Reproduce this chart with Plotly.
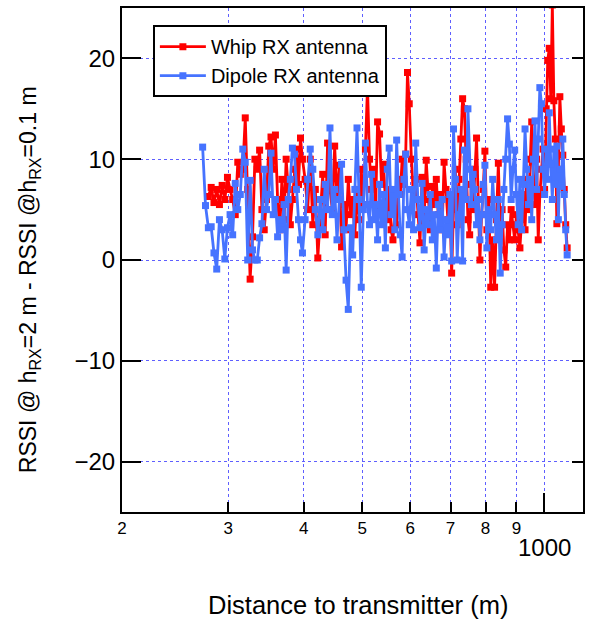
import math
import plotly.graph_objects as go

# ---------------- data ----------------
distance_m = [
    272, 275, 278, 281, 284, 287, 290, 293, 296, 299,
    302, 305, 308, 311, 314, 317, 320, 323, 326, 329,
    332, 335, 338, 341, 344, 347, 350, 353, 356, 359,
    362, 365, 368, 371, 374, 377, 380, 383, 386, 389,
    392, 395, 398,
    402, 406, 410, 414, 418, 422, 426, 430, 434, 438,
    442, 446, 450, 454, 458, 462, 466, 470, 474, 478,
    482, 486, 490, 494, 498, 502, 506, 510, 514, 518,
    522, 526, 530, 534, 538, 542, 546, 550, 554, 558,
    562, 566, 570, 574, 578, 582, 586, 590, 594, 598,
    603, 608, 613, 618, 623, 628, 633, 638, 643, 648,
    653, 658, 663, 668, 673, 678, 683, 688, 693, 698,
    703, 708, 713, 718, 723, 728, 733, 738, 743, 748,
    753, 758, 763, 768, 773, 778, 783, 788, 793, 798,
    804, 810, 816, 822, 828, 834, 840, 846, 852, 858,
    864, 870, 876, 882, 888, 894, 900, 906, 912, 918,
    924, 930, 936, 942, 948, 954, 960, 966, 972, 978,
    984, 990, 996, 1002, 1008, 1014, 1020, 1026, 1032, 1038,
    1044, 1050, 1056, 1062, 1068, 1074, 1080, 1086, 1092,
]

whip_rssi_diff = [
    None, None, 6.3, 7.2, 5.7, 7.0, 5.5, 7.4, 6.0, 8.2,
    7.0, 6.0, 4.5, 9.7, 8.5, 9.0, 14.1, 7.0, -1.9, 2.3,
    10.0, 9.0, 10.9, 5.0, 3.0, 6.0, 11.3, 12.2, 9.0, 12.4,
    6.0, 3.0, 8.0, 4.0, 10.0, 7.0, 3.5, 6.0, 9.0, 11.0,
    7.5, 12.1, 10.0,
    8.0, 5.0, 10.0, 3.5, 7.0, 0.2, 4.0, 8.5, 2.5, 11.6,
    7.0, 5.0, 11.3, 6.0, 9.4, 1.3, 5.5, 3.0, 8.0, 4.5,
    6.0, 2.5, 7.0, 4.0, 9.0, 5.5, 11.0, 17.2, 10.0, 7.0,
    9.0, 5.0, 13.7, 12.5, 7.5, 9.5, 6.0, 4.0, 7.0, 3.0,
    2.0, 5.0, 3.5, 8.0, 6.5, 10.0, 7.5, 10.5, 18.6, 15.5,
    10.0, 6.0, 8.0, 4.5, 1.7, 8.2, 4.0, 9.9, 6.0, 3.0,
    7.3, 5.5, 8.0, 4.5, 6.5, 3.0, 9.7, 7.0, 4.0, 6.0,
    -1.3, 5.0, 9.0, 3.5, 8.0, 12.0, 16.0, 15.0, 10.0, 4.0,
    2.5, 7.5, 5.0, 9.0, 12.1, 6.0, 0.0, 4.5, 7.0, 10.8,
    3.0, 6.0, -2.7, 2.0, -2.7, 4.0, 9.6, 3.0, 5.0, 1.0,
    -0.7, 3.5, 2.0, 5.0, 3.5, 2.0, 4.5, 3.0, 1.2, 4.0,
    6.5, 3.0, 8.0, 5.0, 10.0, 13.7, 8.0, 5.5, 10.0, 2.0,
    6.5, 9.0, 11.0, 7.0, 15.0, 19.8, 21.0, 16.0, 25.3, 15.8,
    12.0, 3.6, 9.0, 16.2, 13.0, 10.4, 7.0, 3.5, 1.2,
]

dipole_rssi_diff = [
    11.2, 5.4, 3.2, 3.3, 0.7, -0.9, 4.0, 3.0, 0.1, 3.2,
    4.5, 2.5, 7.6, 5.0, 6.5, 11.0, 9.7, 0.0, 7.9, 1.0,
    0.0, 0.0, 2.2, 3.6, 9.0, 5.0, 6.5, 10.6, 4.5, 6.0,
    2.3, 4.0, 3.0, 5.5, -1.0, 6.0, 8.0, 11.1, 10.5, 7.0,
    4.0, 2.0, 0.7,
    4.0, 8.0, 11.0, 9.0, 5.0, 2.5, 6.0, 3.0, 7.5, 5.0,
    13.1, 4.5, 7.0, 2.0, 6.0, 9.5, 3.0, -2.0, -4.9, 3.2,
    0.5, 7.0, 13.1, 6.0, -2.7, 5.0, 11.6, 5.5, 3.5, 8.5,
    4.0, 5.5, 2.0, 7.5, 3.5, 6.5, 1.2, 9.0, 11.1, 4.5,
    7.0, 3.0, 11.9, 6.5, 2.5, 0.3, 8.0, 10.5, 5.0, 3.5,
    7.0, 3.0, 11.6, 6.0, 3.2, 7.6, 1.0, 5.0, 3.5, 6.5,
    2.0, 4.5, -0.8, 5.5, 3.0, 6.0, 0.3, 4.0, 2.5, 6.5,
    -0.1, 13.0, 8.0, 0.0, 4.5, 7.0, -0.1, 10.9, 6.0, 15.0,
    9.0, 5.5, 8.5, 7.0, 3.5, 6.0, 2.0, 4.5, 7.5, 9.4,
    1.2, 5.0, 3.0, 8.0, 4.5, 2.0, 6.0, -1.3, 3.5, 7.0,
    10.0, 14.0, 11.5, 6.0, 9.0, 10.9, 6.5, 3.5, 8.0, 3.0,
    7.5, 13.0, 9.0, 5.5, 8.0, 4.0, 10.0, 13.8, 7.0, 12.0,
    17.1, 15.5, 9.0, 6.5, 11.0, 8.0, 14.6, 9.5, 6.0, 11.0,
    7.5, 11.3, 4.0, 9.0, 7.3, 12.0, 6.5, 3.0, 0.5,
]

series_names = ["Whip RX antenna", "Dipole RX antenna"]

y_tick_vals = [-20, -10, 0, 10, 20]
x_tick_vals = [200, 300, 400, 500, 600, 700, 800, 900]
x_tick_text = ["2", "3", "4", "5", "6", "7", "8", "9"]
x_major_vals = [1000]
x_major_text = "1000"

x_title = "Distance to transmitter (m)"
y_title = "RSSI @ h<sub>RX</sub>=2 m - RSSI @h<sub>RX</sub>=0.1 m"

# ---------------- style ----------------
FONT = "Liberation Sans, Arial, Helvetica, sans-serif"
RED = "rgb(255,0,0)"
BLUE = "rgb(70,115,255)"
GRID = "rgb(95,95,255)"

fig = go.Figure()
for name, vals, col in [(series_names[0], whip_rssi_diff, RED),
                        (series_names[1], dipole_rssi_diff, BLUE)]:
    fig.add_trace(go.Scatter(
        x=distance_m, y=vals, name=name, mode="lines+markers",
        line=dict(color=col, width=2.8),
        marker=dict(symbol="square", size=7, color=col),
        connectgaps=False,
    ))

# empty helper trace so the right-hand y axis (shorter ticks) is drawn
fig.add_trace(go.Scatter(x=[], y=[], yaxis="y2", showlegend=False,
                         hoverinfo="skip"))

x_range = [math.log10(200), math.log10(1160)]

fig.update_layout(
    width=593, height=622,
    margin=dict(l=122, r=10, t=6, b=110),
    plot_bgcolor="white", paper_bgcolor="white",
    font=dict(family=FONT, color="black"),
    showlegend=True,
    legend=dict(
        x=0.067, y=0.966, xanchor="left", yanchor="top",
        bgcolor="white", bordercolor="black", borderwidth=2,
        font=dict(size=20, family=FONT), tracegroupgap=0,
        itemwidth=46,
    ),
    xaxis=dict(
        type="log", range=x_range,
        tickmode="array", tickvals=x_tick_vals, ticktext=x_tick_text,
        ticks="inside", ticklen=10, tickwidth=2, tickcolor="black",
        tickfont=dict(size=17),
        showline=True, linecolor="black", linewidth=2, mirror=True,
        showgrid=True, gridcolor=GRID, griddash="dot", gridwidth=1,
        zeroline=False,
        minor=dict(tickmode="array", tickvals=x_major_vals,
                   ticks="inside", ticklen=19, tickwidth=2,
                   tickcolor="black", showgrid=True, gridcolor=GRID,
                   griddash="dot", gridwidth=1),
    ),
    yaxis=dict(
        range=[-25, 25], tickmode="array", tickvals=y_tick_vals,
        ticks="inside", ticklen=19, tickwidth=2, tickcolor="black",
        tickfont=dict(size=24),
        showline=True, linecolor="black", linewidth=2, mirror=False,
        showgrid=True, gridcolor=GRID, griddash="dot", gridwidth=1,
        zeroline=False,
    ),
    yaxis2=dict(
        overlaying="y", side="right", range=[-25, 25],
        tickmode="array", tickvals=y_tick_vals,
        ticks="inside", ticklen=11, tickwidth=2, tickcolor="black",
        showticklabels=False, showline=True, linecolor="black",
        linewidth=2, showgrid=False, zeroline=False,
    ),
    annotations=[
        dict(text=x_major_text, x=math.log10(x_major_vals[0]), xref="x",
             y=-0.071, yref="paper", showarrow=False,
             xanchor="center", yanchor="middle", font=dict(size=24)),
        dict(text=x_title, x=0.512, y=-0.184, xref="paper", yref="paper",
             showarrow=False, xanchor="center", yanchor="middle",
             font=dict(size=25.5)),
        dict(text=y_title, x=-0.2017, y=0.46, xref="paper", yref="paper",
             showarrow=False, xanchor="center", yanchor="middle",
             textangle=-90, font=dict(size=23)),
    ],
)

fig.write_html("out.html")
